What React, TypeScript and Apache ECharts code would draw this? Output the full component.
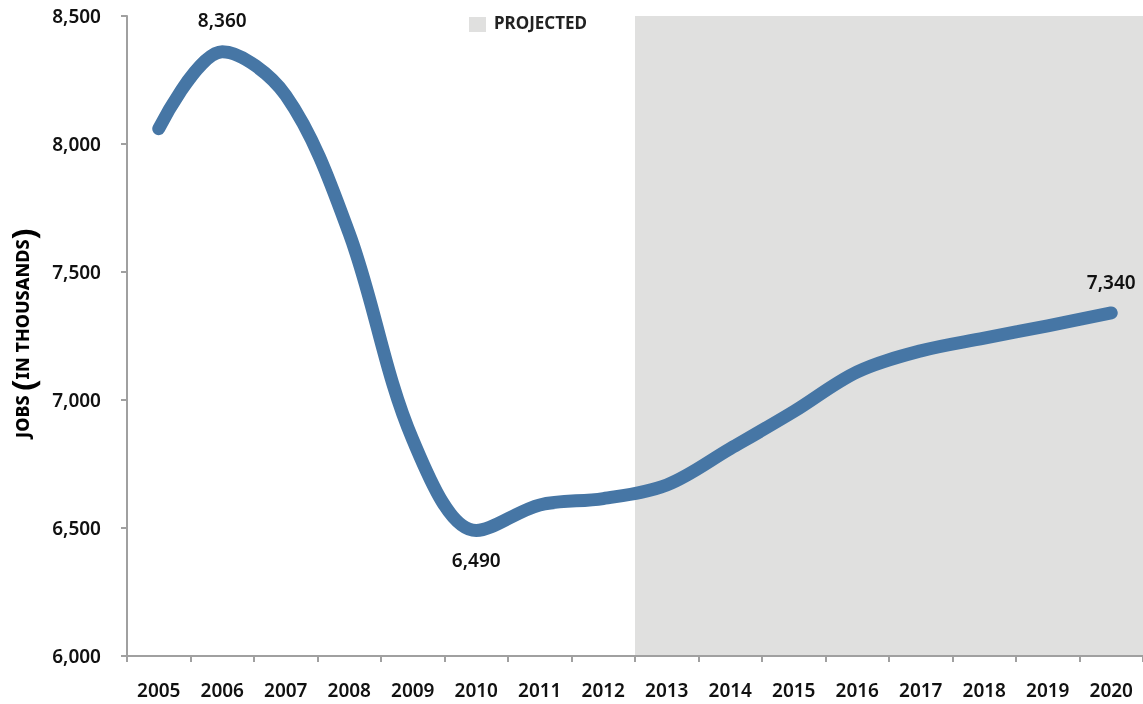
import React, { useEffect, useRef } from "react";
import * as echarts from "echarts";

const years = ["2005","2006","2007","2008","2009","2010","2011","2012","2013","2014","2015","2016","2017","2018","2019","2020"];
const yTicks = [6000, 6500, 7000, 7500, 8000, 8500];
const jobs = [8060, 8360, 8190, 7650, 6845, 6490, 6590, 6615, 6668, 6810, 6955, 7110, 7192, 7242, 7290, 7340];
const labelled: Record<number, { pos: string; dist: number }> = {
  1: { pos: "top", dist: 22 },
  5: { pos: "bottom", dist: 20 },
  15: { pos: "top", dist: 21 },
};
// projected band spans the 2013–2020 category slots (edges at half-years)
const projectedFrom = 2012.5;
const projectedTo = 2020.5;

const FONT = "'Noto Sans', 'Open Sans', sans-serif";

export default function App() {
  const ref = useRef<HTMLDivElement>(null);
  useEffect(() => {
    if (!ref.current) return;
    const chart = echarts.init(ref.current, null, { renderer: "svg" });
    const data = jobs.map((v, i) => {
      const l = labelled[i];
      if (!l) return v;
      return {
        value: v,
        label: {
          show: true,
          position: l.pos,
          distance: l.dist,
          formatter: (p: any) => Number(p.value).toLocaleString("en-US"),
          fontFamily: FONT,
          fontSize: 19,
          fontWeight: 600,
          color: "#111",
        },
      };
    });
    chart.setOption({
      animation: false,
      grid: { left: 127, right: 0, top: 16, bottom: 48, containLabel: false },
      xAxis: [
        {
          type: "category",
          data: years,
          boundaryGap: true,
          axisLine: { lineStyle: { color: "#a0a0a0", width: 2 } },
          axisTick: { show: true, interval: 0, length: 6, lineStyle: { color: "#a0a0a0", width: 2 } },
          axisLabel: { interval: 0, margin: 24, fontFamily: FONT, fontSize: 19, fontWeight: 600, color: "#111" },
          splitLine: { show: false },
          z: 5,
        },
        {
          type: "value",
          min: Number(years[0]) - 0.5,
          max: Number(years[years.length - 1]) + 0.5,
          show: false,
        },
      ],
      yAxis: {
        type: "value",
        min: yTicks[0],
        max: yTicks[yTicks.length - 1],
        interval: 500,
        axisLine: { show: true, lineStyle: { color: "#a0a0a0", width: 2 } },
        axisTick: { show: true, length: 6, lineStyle: { color: "#a0a0a0", width: 2 } },
        axisLabel: {
          margin: 26,
          fontFamily: FONT,
          fontSize: 19,
          fontWeight: 600,
          color: "#111",
          formatter: (v: number) => v.toLocaleString("en-US"),
        },
        splitLine: { show: false },
      },
      series: [
        {
          type: "line",
          name: "band",
          xAxisIndex: 1,
          data: [],
          silent: true,
          markArea: {
            silent: true,
            itemStyle: { color: "#e0e0df" },
            data: [[{ xAxis: projectedFrom }, { xAxis: projectedTo }]],
          },
          z: 1,
        },
        {
          type: "line",
          data,
          smooth: 0.34,
          showSymbol: true,
          symbol: "circle",
          symbolSize: 0,
          itemStyle: { color: "#4676a5" },
          lineStyle: { color: "#4676a5", width: 13, cap: "round", join: "round" },
          z: 3,
        },
      ],
      graphic: [
        { type: "rect", left: 469, top: 17, shape: { width: 17, height: 15 }, style: { fill: "#e0e0df" } },
        {
          type: "text",
          left: 494,
          top: 14,
          style: { text: "PROJECTED", font: `700 17px ${FONT}`, fill: "#222" },
        },
        {
          type: "text",
          x: 22,
          y: 438,
          rotation: Math.PI / 2,
          style: {
            text: "{a|JOBS }{p|(}{a|IN THOUSANDS}{p|)}",
            align: "left",
            verticalAlign: "middle",
            rich: {
              a: { fontFamily: FONT, fontSize: 18, fontWeight: 800, color: "#111" },
              p: { fontFamily: FONT, fontSize: 33, fontWeight: 700, color: "#111" },
            },
          },
        },
      ],
    });
    return () => chart.dispose();
  }, []);
  return <div ref={ref} style={{ position: "fixed", left: 0, top: 0, width: 1143, height: 704 }} />;
}
